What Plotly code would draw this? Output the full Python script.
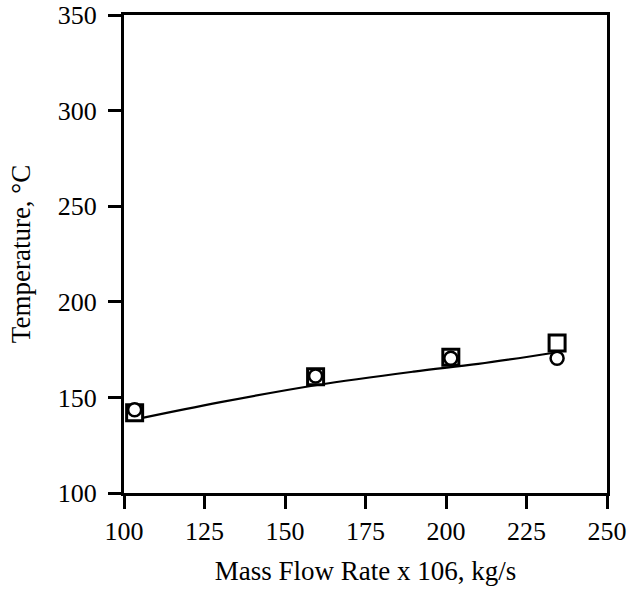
import plotly.graph_objects as go

# Data
flow_rate = [103.3, 159.5, 201.5, 234.5]
temp_square = [142.0, 160.8, 171.0, 178.5]
temp_circle = [143.5, 161.2, 170.5, 170.5]
fit_x = [103, 130, 160, 190, 210, 234]
fit_y = [138.3, 147.5, 156.5, 163.5, 167.5, 173.5]

x_ticks = [100, 125, 150, 175, 200, 225, 250]
y_ticks = [100, 150, 200, 250, 300, 350]

font_family = "Liberation Serif"

fig = go.Figure()
fig.add_trace(go.Scatter(x=fit_x, y=fit_y, mode="lines",
                         line=dict(color="black", width=2.2, shape="spline"),
                         showlegend=False, hoverinfo="skip"))
fig.add_trace(go.Scatter(x=flow_rate, y=temp_square, mode="markers",
                         marker=dict(symbol="square", size=16, color="white",
                                     line=dict(color="black", width=3)),
                         showlegend=False))
fig.add_trace(go.Scatter(x=flow_rate, y=temp_circle, mode="markers",
                         marker=dict(symbol="circle", size=13, color="white",
                                     line=dict(color="black", width=2.5)),
                         showlegend=False))

axis_common = dict(showgrid=False, zeroline=False, showline=True, mirror=True,
                   linecolor="black", linewidth=3, ticks="outside", ticklen=13,
                   tickwidth=2.5, tickcolor="black", ticklabeloverflow="allow",
                   tickfont=dict(family=font_family, size=26, color="black"))

fig.update_xaxes(range=[100, 250], tickvals=x_ticks,
                 ticktext=[str(v) for v in x_ticks],
                 title=dict(text="Mass Flow Rate x 106, kg/s",
                            font=dict(family=font_family, size=27, color="black"),
                            standoff=16),
                 **axis_common)
fig.update_yaxes(range=[100, 350], tickvals=y_ticks,
                 ticktext=[str(v) for v in y_ticks],
                 ticklabelstandoff=6,
                 title=dict(text="Temperature, °C",
                            font=dict(family=font_family, size=27, color="black"),
                            standoff=20),
                 **axis_common)

fig.update_layout(width=633, height=590,
                  margin=dict(l=124, r=26, t=15, b=97, autoexpand=False),
                  plot_bgcolor="white", paper_bgcolor="white")

fig.write_html("out.html",
               config={"displayModeBar": False},
               post_script="document.body.style.margin='0';")
